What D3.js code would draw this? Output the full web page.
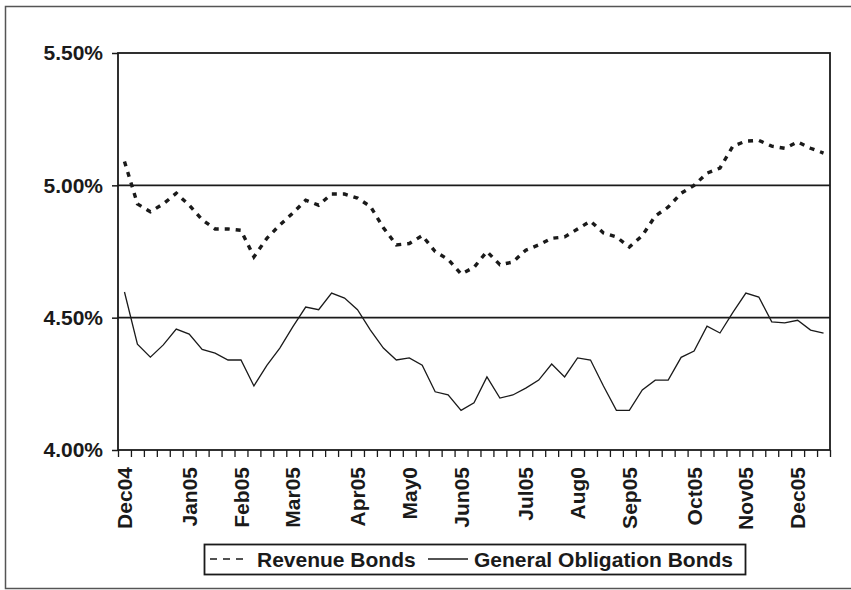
<!DOCTYPE html>
<html>
<head>
<meta charset="utf-8">
<script src="https://cdn.jsdelivr.net/npm/d3@7"></script>
<style>
  html, body { margin: 0; padding: 0; background: #fff; }
  svg { display: block; }
</style>
</head>
<body>
<svg id="chart"></svg>
<script>
// weekly yields, Dec 2004 - Dec 2005
var revenueBonds = [5.09, 4.93, 4.90, 4.93, 4.97, 4.925, 4.87, 4.835, 4.835, 4.83,
  4.73, 4.80, 4.85, 4.895, 4.944, 4.925, 4.967, 4.967, 4.952, 4.92,
  4.84, 4.775, 4.78, 4.81, 4.75, 4.72, 4.665, 4.69, 4.75, 4.70,
  4.71, 4.755, 4.775, 4.80, 4.805, 4.835, 4.865, 4.82, 4.805, 4.767,
  4.81, 4.884, 4.918, 4.97, 5.00, 5.046, 5.065, 5.148, 5.167, 5.17,
  5.148, 5.14, 5.164, 5.14, 5.122];

var generalObligation = [4.597, 4.40, 4.351, 4.397, 4.457, 4.438, 4.38, 4.366, 4.34, 4.34,
  4.242, 4.32, 4.385, 4.465, 4.54, 4.53, 4.593, 4.574, 4.53, 4.453,
  4.385, 4.34, 4.348, 4.32, 4.22, 4.208, 4.15, 4.178, 4.276, 4.196,
  4.208, 4.234, 4.264, 4.325, 4.276, 4.348, 4.34, 4.242, 4.15, 4.15,
  4.227, 4.264, 4.264, 4.35, 4.374, 4.468, 4.442, 4.52, 4.593, 4.578,
  4.484, 4.48, 4.49, 4.453, 4.442];

var monthLabels = ["Dec04", "Jan05", "Feb05", "Mar05", "Apr05", "May0", "Jun05",
  "Jul05", "Aug0", "Sep05", "Oct05", "Nov05", "Dec05"];
var monthWeek = [0, 5, 9, 13, 18, 22, 26, 31, 35, 39, 44, 48, 52];

var yTicks = [4.0, 4.5, 5.0, 5.5];
var gridValues = [4.5, 5.0];

var seriesNames = ["Revenue Bonds", "General Obligation Bonds"];

var svgWidth = 851;
var svgHeight = 590;
var plot = { left: 118, right: 830, top: 53, bottom: 450 };
var font = "'Liberation Sans', Arial, sans-serif";
var fontSize = "21px";
var ink = "#1a1a1a";

var svg = d3.select("#chart")
    .attr("width", svgWidth)
    .attr("height", svgHeight);

// outer frame (right edge runs off the page)
svg.append("rect")
    .attr("x", 5.5)
    .attr("y", 6.5)
    .attr("width", 860)
    .attr("height", 582)
    .attr("fill", "none")
    .attr("stroke", "#555")
    .attr("stroke-width", 1.5);

var weeks = d3.range(revenueBonds.length);

var x = d3.scaleBand()
    .domain(weeks)
    .range([plot.left, plot.right]);

var xEdge = d3.scaleLinear()
    .domain([0, weeks.length])
    .range([plot.left, plot.right]);

var y = d3.scaleLinear()
    .domain([4.0, 5.5])
    .range([plot.bottom, plot.top]);

function cx(i) { return x(i) + x.bandwidth() / 2; }

// gridlines
svg.append("g")
    .selectAll("line")
    .data(gridValues)
    .join("line")
    .attr("x1", plot.left)
    .attr("x2", plot.right)
    .attr("y1", function(d) { return y(d); })
    .attr("y2", function(d) { return y(d); })
    .attr("stroke", ink)
    .attr("stroke-width", 1.6);

// plot frame
svg.append("rect")
    .attr("x", plot.left)
    .attr("y", plot.top)
    .attr("width", plot.right - plot.left)
    .attr("height", plot.bottom - plot.top)
    .attr("fill", "none")
    .attr("stroke", ink)
    .attr("stroke-width", 1.8);

// y axis
var yAxis = svg.append("g")
    .attr("transform", "translate(" + plot.left + ",0)")
    .call(d3.axisLeft(y)
      .tickValues(yTicks)
      .tickSize(6)
      .tickPadding(9)
      .tickFormat(function(d) { return d3.format(".2f")(d) + "%"; }));
yAxis.select(".domain").remove();
yAxis.selectAll("line").attr("stroke", ink).attr("stroke-width", 1.5);
yAxis.selectAll("text")
    .attr("fill", ink)
    .style("font-family", font)
    .style("font-size", fontSize)
    .style("font-weight", "bold");

// x tick marks between weeks
var xTicks = svg.append("g")
    .attr("transform", "translate(0," + plot.bottom + ")")
    .call(d3.axisBottom(xEdge)
      .tickValues(d3.range(weeks.length + 1))
      .tickSize(7)
      .tickFormat(""));
xTicks.select(".domain").remove();
xTicks.selectAll("line").attr("stroke", ink).attr("stroke-width", 1.3);

// month labels
var xLabels = svg.append("g")
    .attr("transform", "translate(0," + plot.bottom + ")")
    .call(d3.axisBottom(x)
      .tickValues(monthWeek)
      .tickSize(0)
      .tickFormat(function(d) { return monthLabels[monthWeek.indexOf(d)]; }));
xLabels.select(".domain").remove();
xLabels.selectAll("text")
    .attr("transform", "rotate(-90)")
    .attr("text-anchor", "end")
    .attr("x", -17)
    .attr("y", 0)
    .attr("dy", "0.36em")
    .attr("fill", ink)
    .style("font-family", font)
    .style("font-size", fontSize)
    .style("font-weight", "bold");

var line = d3.line()
    .x(function(d, i) { return cx(i); })
    .y(function(d) { return y(d); });

svg.append("path")
    .datum(generalObligation)
    .attr("fill", "none")
    .attr("stroke", ink)
    .attr("stroke-width", 1.3)
    .attr("stroke-linejoin", "miter")
    .attr("d", line);

svg.append("path")
    .datum(revenueBonds)
    .attr("fill", "none")
    .attr("stroke", ink)
    .attr("stroke-width", 3.4)
    .attr("stroke-dasharray", "5,6")
    .attr("d", line);

// legend
var legend = svg.append("g");

legend.append("rect")
    .attr("x", 204.5)
    .attr("y", 544.5)
    .attr("width", 541)
    .attr("height", 30)
    .attr("fill", "#fff")
    .attr("stroke", ink)
    .attr("stroke-width", 1.8);

var legendItems = [
  { name: seriesNames[0], x1: 210, x2: 244, dash: "7,6", text: 257 },
  { name: seriesNames[1], x1: 428, x2: 468, dash: null, text: 474 }
];

legendItems.forEach(function(item) {
  legend.append("line")
      .attr("x1", item.x1)
      .attr("x2", item.x2)
      .attr("y1", 559)
      .attr("y2", 559)
      .attr("stroke", ink)
      .attr("stroke-width", 1.5)
      .attr("stroke-dasharray", item.dash);
  legend.append("text")
      .attr("x", item.text)
      .attr("y", 567)
      .attr("fill", ink)
      .style("font-family", font)
      .style("font-size", fontSize)
      .style("font-weight", "bold")
      .text(item.name);
});
</script>
</body>
</html>
